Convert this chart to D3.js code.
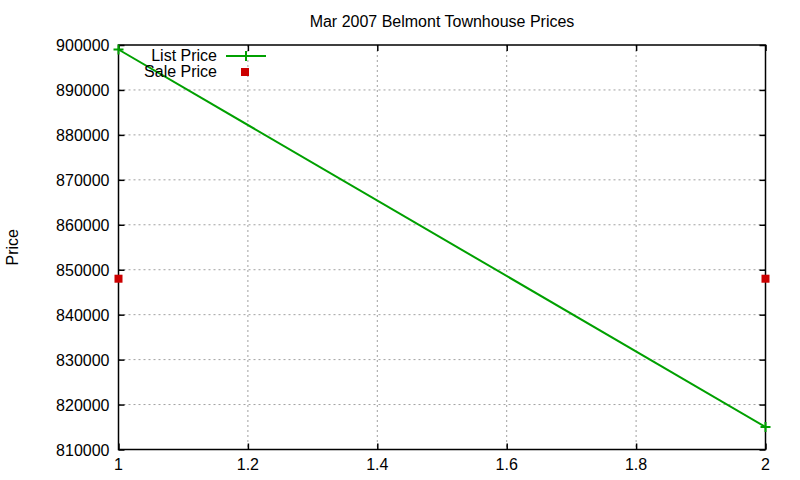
<!DOCTYPE html>
<html>
<head>
<meta charset="utf-8">
<script src="https://cdn.jsdelivr.net/npm/d3@7"></script>
<style>
  body { margin: 0; background: #fff; }
  svg text { font-family: "Liberation Sans", Arial, sans-serif; font-size: 16px; fill: #000; }
</style>
</head>
<body>
<script>
// chart data
var listX = [1, 2];
var listPrice = [899000, 815000];
var saleX = [1, 2];
var salePrice = [848000, 848000];
var xTicks = [1, 1.2, 1.4, 1.6, 1.8, 2];
var yTicks = [810000, 820000, 830000, 840000, 850000, 860000, 870000, 880000, 890000, 900000];
var seriesNames = ['List Price', 'Sale Price'];

var width = 800, height = 480,
	pLeft = 118.5, pRight = 765.5, pTop = 45, pBottom = 449.5;

var svg = d3.select('body').append('svg')
	.attr('width', width)
	.attr('height', height);

var x = d3.scaleLinear().domain([1, 2]).range([pLeft, pRight]);
var y = d3.scaleLinear().domain([810000, 900000]).range([pBottom, pTop]);

// grid
svg.append('g').selectAll('line')
	.data(xTicks.slice(1, -1))
	.enter().append('line')
	.attr('x1', function(d) { return x(d); })
	.attr('x2', function(d) { return x(d); })
	.attr('y1', pTop).attr('y2', pBottom)
	.attr('stroke', '#a0a0a0').attr('stroke-dasharray', '2,3');

svg.append('g').selectAll('line')
	.data(yTicks.slice(1, -1))
	.enter().append('line')
	.attr('y1', function(d) { return y(d); })
	.attr('y2', function(d) { return y(d); })
	.attr('x1', pLeft).attr('x2', pRight)
	.attr('stroke', '#a0a0a0').attr('stroke-dasharray', '2,3');

// axes, ticks inward on all sides
function styleAxis(g) {
	g.select('.domain').remove();
	g.selectAll('.tick line').attr('stroke', '#000').attr('stroke-width', 1.5);
}

svg.append('g')
	.attr('transform', 'translate(0,' + pBottom + ')')
	.call(d3.axisTop(x).tickValues(xTicks).tickSize(6).tickFormat(''))
	.call(styleAxis);
svg.append('g')
	.attr('transform', 'translate(0,' + pTop + ')')
	.call(d3.axisBottom(x).tickValues(xTicks).tickSize(6).tickFormat(''))
	.call(styleAxis);
svg.append('g')
	.attr('transform', 'translate(' + pLeft + ',0)')
	.call(d3.axisRight(y).tickValues(yTicks).tickSize(6).tickFormat(''))
	.call(styleAxis);
svg.append('g')
	.attr('transform', 'translate(' + pRight + ',0)')
	.call(d3.axisLeft(y).tickValues(yTicks).tickSize(6).tickFormat(''))
	.call(styleAxis);

// tick labels
svg.append('g').selectAll('text')
	.data(xTicks)
	.enter().append('text')
	.attr('x', function(d) { return x(d); })
	.attr('y', pBottom + 20)
	.attr('text-anchor', 'middle')
	.text(function(d) { return d3.format('~g')(d); });

svg.append('g').selectAll('text')
	.data(yTicks)
	.enter().append('text')
	.attr('x', pLeft - 9)
	.attr('y', function(d) { return y(d) + 6; })
	.attr('text-anchor', 'end')
	.text(function(d) { return d; });

// border
svg.append('rect')
	.attr('x', pLeft).attr('y', pTop)
	.attr('width', pRight - pLeft).attr('height', pBottom - pTop)
	.attr('fill', 'none').attr('stroke', '#000').attr('stroke-width', 1.5);

// title and label
svg.append('text')
	.attr('x', (pLeft + pRight) / 2).attr('y', 27)
	.attr('text-anchor', 'middle')
	.text('Mar 2007 Belmont Townhouse Prices');

svg.append('text')
	.attr('transform', 'translate(18,' + ((pTop + pBottom) / 2) + ') rotate(-90)')
	.attr('text-anchor', 'middle')
	.text('Price');

// list price line
var listData = listX.map(function(v, i) { return [v, listPrice[i]]; });
var green = '#00a000', red = '#cc0000';

svg.append('path')
	.datum(listData)
	.attr('fill', 'none')
	.attr('stroke', green)
	.attr('stroke-width', 2)
	.attr('d', d3.line().x(function(d) { return x(d[0]); }).y(function(d) { return y(d[1]); }));

svg.append('g').selectAll('path')
	.data(listData)
	.enter().append('path')
	.attr('transform', function(d) { return 'translate(' + x(d[0]) + ',' + y(d[1]) + ')'; })
	.attr('d', 'M-5,0H5M0,-5V5')
	.attr('stroke', green).attr('stroke-width', 2);

// sale price points
var saleData = saleX.map(function(v, i) { return [v, salePrice[i]]; });
svg.append('g').selectAll('rect')
	.data(saleData)
	.enter().append('rect')
	.attr('x', function(d) { return x(d[0]) - 4; })
	.attr('y', function(d) { return y(d[1]) - 4; })
	.attr('width', 8).attr('height', 8)
	.attr('fill', red);

// legend
var legend = svg.append('g');
legend.append('text').attr('x', 217).attr('y', 61).attr('text-anchor', 'end').text(seriesNames[0]);
legend.append('text').attr('x', 217).attr('y', 77).attr('text-anchor', 'end').text(seriesNames[1]);
legend.append('line').attr('x1', 226).attr('x2', 266).attr('y1', 56).attr('y2', 56)
	.attr('stroke', green).attr('stroke-width', 2);
legend.append('path').attr('transform', 'translate(246,56)').attr('d', 'M-5,0H5M0,-5V5')
	.attr('stroke', green).attr('stroke-width', 2);
legend.append('rect').attr('x', 241).attr('y', 68).attr('width', 8).attr('height', 8).attr('fill', red);
</script>
</body>
</html>
